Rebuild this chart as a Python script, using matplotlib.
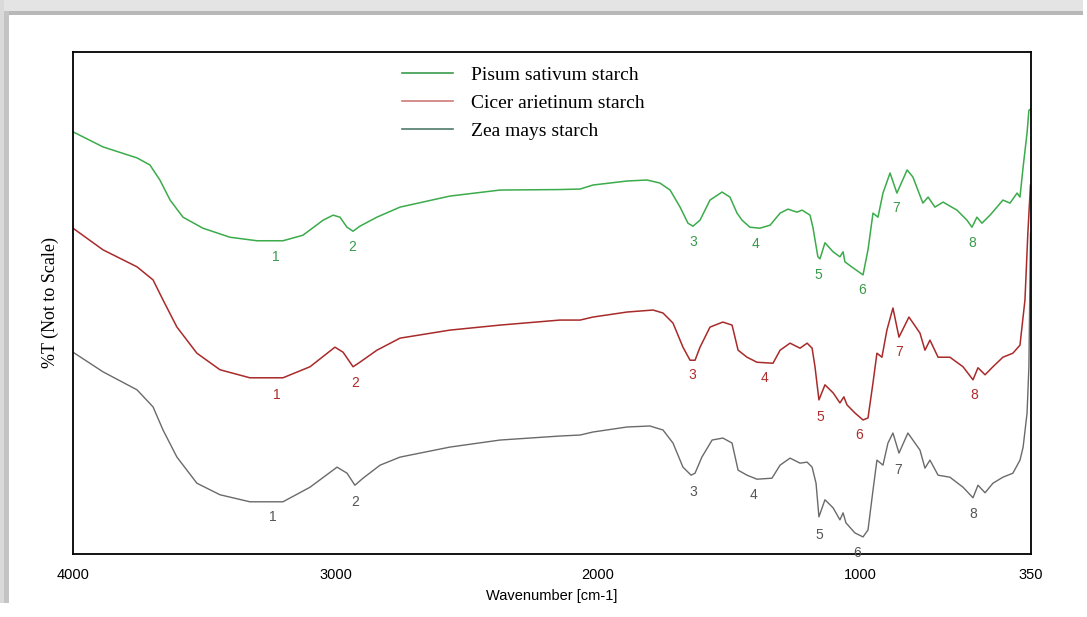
import matplotlib
matplotlib.use("Agg")
import matplotlib.pyplot as plt
from matplotlib.lines import Line2D
from matplotlib.patches import Rectangle

# FTIR spectra of three starches (transmittance offset, not to scale)
wn_pisum = [4000, 3886, 3756, 3707, 3669, 3630, 3581, 3505, 3402, 3299, 3200, 3124, 3047, 3009, 2983,
            2956, 2933, 2907, 2842, 2754, 2564, 2373, 2145, 2068, 2019, 1889, 1813, 1764, 1725, 1687,
            1657, 1638, 1611, 1573, 1527, 1497, 1470, 1451, 1421, 1383, 1344, 1306, 1276, 1242, 1222,
            1192, 1181, 1162, 1154, 1135, 1104, 1078, 1066, 1059, 1028, 990, 971, 952, 933, 914, 887,
            861, 822, 800, 762, 742, 716, 685, 632, 594, 575, 556, 537, 506, 457, 430, 403, 392, 380,
            365, 358, 352]
t_pisum = [84.1, 81.1, 78.9, 77.5, 74.5, 70.5, 67.1, 64.9, 63.1, 62.4, 62.4, 63.5, 66.5, 67.5, 67.1,
           65.1, 64.3, 65.3, 67.1, 69.1, 71.3, 72.5, 72.6, 72.7, 73.5, 74.3, 74.5, 73.9, 72.5, 69.1,
           65.9, 65.3, 66.5, 70.5, 72.1, 71.1, 67.9, 66.5, 65.1, 64.9, 65.5, 67.9, 68.7, 68.1, 68.5,
           67.5, 65.1, 59.2, 58.8, 62.0, 60.2, 59.2, 60.2, 58.2, 57.0, 55.6, 60.6, 67.9, 67.1, 71.9, 75.9,
           71.9, 76.5, 75.1, 69.9, 71.1, 69.1, 70.1, 68.5, 66.5, 65.1, 67.1, 65.9, 67.5, 70.5, 69.9, 71.9,
           71.1, 77.1, 83.9, 88.4, 88.6]

wn_cicer = [4000, 3886, 3756, 3695, 3657, 3604, 3528, 3440, 3326, 3200, 3097, 3002, 2971, 2933, 2907,
            2842, 2754, 2564, 2373, 2145, 2068, 2019, 1889, 1790, 1752, 1714, 1676, 1649, 1630, 1611,
            1573, 1524, 1489, 1466, 1432, 1394, 1333, 1306, 1268, 1230, 1203, 1184, 1173, 1158, 1135,
            1104, 1078, 1063, 1051, 1021, 990, 971, 952, 937, 918, 899, 876, 853, 815, 773, 754, 735,
            704, 659, 609, 571, 552, 525, 495, 457, 419, 392, 373, 362, 352]
t_cicer = [64.9, 60.6, 57.2, 54.6, 50.6, 45.2, 40.0, 36.7, 35.1, 35.1, 37.3, 41.2, 40.2, 37.3, 38.2,
           40.6, 43.0, 44.6, 45.6, 46.6, 46.6, 47.2, 48.2, 48.6, 48.0, 46.0, 41.2, 38.6, 38.6, 41.2,
           45.2, 46.2, 45.6, 40.6, 39.2, 38.2, 38.0, 40.6, 42.0, 41.0, 42.0, 41.0, 37.3, 30.7, 33.7,
           32.1, 30.1, 31.3, 29.7, 28.1, 26.7, 27.1, 34.1, 40.0, 39.2, 44.6, 49.0, 43.2, 47.2, 44.0, 40.6,
           42.6, 39.2, 39.2, 37.3, 34.7, 37.1, 35.7, 37.3, 39.2, 40.0, 41.6, 50.6, 63.9, 73.5]

wn_zea = [4000, 3886, 3756, 3695, 3657, 3604, 3528, 3440, 3326, 3200, 3097, 2994, 2956, 2926, 2895,
          2830, 2754, 2564, 2373, 2145, 2068, 2019, 1889, 1802, 1752, 1714, 1676, 1645, 1630, 1604,
          1565, 1524, 1489, 1466, 1432, 1394, 1337, 1306, 1268, 1230, 1203, 1184, 1169, 1158, 1135,
          1104, 1078, 1066, 1055, 1021, 990, 971, 952, 937, 914, 895, 876, 853, 819, 773, 754, 735,
          704, 659, 609, 571, 552, 525, 495, 457, 419, 392, 380, 365, 358, 352]
t_zea = [40.2, 36.3, 32.7, 29.3, 24.7, 19.3, 14.1, 11.8, 10.4, 10.4, 13.3, 17.3, 16.1, 13.7, 15.1,
         17.7, 19.3, 21.3, 22.7, 23.5, 23.7, 24.3, 25.3, 25.5, 24.7, 22.1, 17.3, 15.7, 16.1, 19.3,
         22.7, 23.1, 22.1, 16.7, 15.7, 14.9, 15.1, 17.7, 19.1, 18.1, 18.3, 17.3, 14.1, 7.4, 10.8,
         9.2, 6.8, 8.2, 6.2, 4.2, 3.4, 4.8, 12.7, 18.7, 17.7, 22.1, 24.1, 20.1, 24.1, 20.7, 17.1,
         18.7, 15.7, 15.3, 13.3, 11.2, 13.7, 12.2, 14.1, 15.3, 16.1, 18.7, 21.3, 28.1, 37.3, 63.9]

# band numbers 1-8 and where each one sits
band_ids = ["1", "2", "3", "4", "5", "6", "7", "8"]
lab_wn_pisum = [3227, 2937, 1638, 1398, 1162, 994, 864, 575]
lab_t_pisum = [59.2, 61.2, 62.2, 61.8, 55.6, 52.6, 68.9, 62.0]
lab_wn_cicer = [3223, 2926, 1642, 1367, 1154, 1005, 853, 567]
lab_t_cicer = [31.7, 34.1, 35.7, 35.1, 27.3, 23.7, 40.2, 31.7]
lab_wn_zea = [3238, 2926, 1638, 1409, 1158, 1013, 857, 571]
lab_t_zea = [7.4, 10.4, 12.4, 11.8, 3.8, 0.2, 16.7, 8.0]

series_names = ["Pisum sativum starch", "Cicer arietinum starch", "Zea mays starch"]
line_colors = ["#3bab4b", "#a82a2a", "#6a6a6a"]
label_colors = ["#3a9a4a", "#b02c2c", "#555555"]
legend_colors = ["#3c9c4c", "#cf7a7a", "#4f7c6a"]
xticks = [4000, 3000, 2000, 1000, 350]

W, H = 1087, 617
fig = plt.figure(figsize=(W / 100, H / 100), dpi=100)

def px(x0, y0, w, h):
    # pixel box (from top-left) -> figure fraction rectangle
    return (x0 / W, 1 - (y0 + h) / H), w / W, h / H

# grey frame around the page
for (x0, y0, w, h), c in [((0, 0, 1083, 11), "#e4e4e4"), ((0, 11, 1083, 4), "#b8b8b8"),
                          ((0, 0, 4, 603), "#dadada"), ((4, 11, 5, 592), "#c4c4c4")]:
    xy, ww, hh = px(x0, y0, w, h)
    fig.patches.append(Rectangle(xy, ww, hh, transform=fig.transFigure, color=c, lw=0))

ax = fig.add_axes([73 / W, 1 - 554 / H, 958 / W, 502 / H])
ax.plot(wn_pisum, t_pisum, color=line_colors[0], lw=1.1)
ax.plot(wn_cicer, t_cicer, color=line_colors[1], lw=1.1)
ax.plot(wn_zea, t_zea, color=line_colors[2], lw=1.0)

for lw_, lt_, col in [(lab_wn_pisum, lab_t_pisum, label_colors[0]),
                      (lab_wn_cicer, lab_t_cicer, label_colors[1]),
                      (lab_wn_zea, lab_t_zea, label_colors[2])]:
    for b, xw, yt in zip(band_ids, lw_, lt_):
        ax.text(xw, yt, b, color=col, fontsize=10, ha="center", va="center",
                family="Liberation Sans")

ax.set_xlim(4000, 350)
ax.set_ylim(0, 100)
ax.set_xticks(xticks)
ax.set_xticklabels([str(t) for t in xticks], family="Liberation Sans", fontsize=10.5)
ax.set_yticks([])
ax.tick_params(axis="x", length=0, pad=10)
for s in ax.spines.values():
    s.set_linewidth(1.3)
ax.set_xlabel("Wavenumber [cm-1]", family="Liberation Sans", fontsize=10.5, labelpad=5)
ax.set_ylabel("%T (Not to Scale)", family="Liberation Serif", fontsize=13, labelpad=10)

handles = [Line2D([], [], color=c, lw=1.2) for c in legend_colors]
ax.legend(handles, series_names, loc="upper left", bbox_to_anchor=(402 / W, 1 - 66 / H),
          bbox_transform=fig.transFigure, frameon=False, borderpad=0, borderaxespad=0,
          handlelength=2.6, handletextpad=0.95, labelspacing=0.55,
          prop={"family": "Liberation Serif", "size": 14})

fig.savefig("out.png", dpi=100)
